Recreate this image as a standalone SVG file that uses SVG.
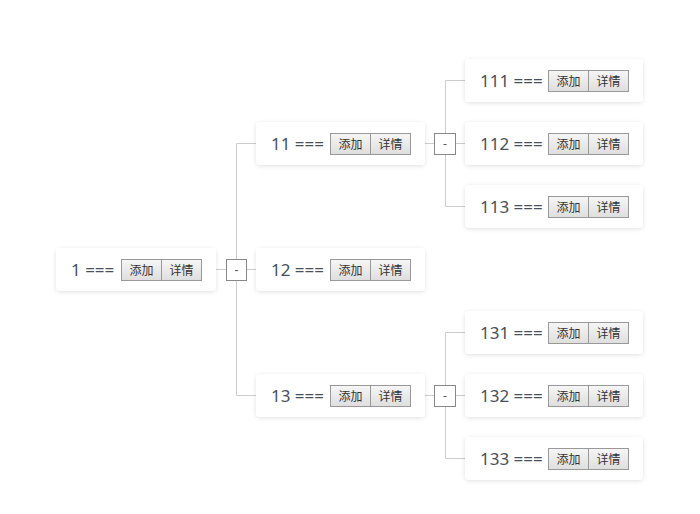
<svg xmlns="http://www.w3.org/2000/svg" width="700" height="514" viewBox="0 0 700 514">
<defs>
<filter id="sh" x="-10%" y="-30%" width="120%" height="160%">
<feDropShadow dx="0" dy="1" stdDeviation="2" flood-color="#000" flood-opacity="0.12"/>
</filter>
<linearGradient id="bg" x1="0" y1="0" x2="0" y2="1">
<stop offset="0" stop-color="#f6f6f6"/>
<stop offset="1" stop-color="#dedede"/>
</linearGradient>
</defs>
<style>
.card{fill:#fff;filter:url(#sh)}
.lbl{font-family:"Noto Sans","DejaVu Sans",sans-serif;font-size:17px;fill:#48505a}
.btn{fill:url(#bg);stroke:#999;stroke-width:1}
.bt{font-family:"Noto Sans CJK SC",sans-serif;font-size:12px;fill:#333;text-anchor:middle}
.tg{fill:#fff;stroke:#888;stroke-width:1}
.tt{font-family:"Liberation Sans",sans-serif;font-size:12px;fill:#555;text-anchor:middle}
.ln{stroke:#cccccc;stroke-width:1;fill:none}
</style>
<rect width="700" height="514" fill="#fff"/>
<g id="connectors">
<path class="ln" d="M216 269.5H226M246 269.5H256M236.5 143.5V395.5M236.5 143.5H256M236.5 395.5H256"/>
<path class="ln" d="M425 143.5H434M455 143.5H465M445.5 80.5V206.5M445.5 80.5H465M445.5 206.5H465"/>
<path class="ln" d="M425 395.5H434M455 395.5H465M445.5 332.5V458.5M445.5 332.5H465M445.5 458.5H465"/>
</g>
<g id="toggles">
<rect class="tg" x="226.5" y="259.5" width="20" height="21"/><text class="tt" x="236.5" y="274">-</text>
<rect class="tg" x="434.5" y="133.5" width="21" height="21"/><text class="tt" x="445" y="148">-</text>
<rect class="tg" x="434.5" y="385.5" width="21" height="21"/><text class="tt" x="445" y="400">-</text>
</g>
<g id="n1">
<rect class="card" x="56" y="248" width="160" height="43" rx="4"/>
<text class="lbl" x="71" y="275.5">1 ===</text>
<rect class="btn" x="121.5" y="259.5" width="40" height="21"/><text class="bt" x="141.5" y="274.5">添加</text>
<rect class="btn" x="161.5" y="259.5" width="40" height="21"/><text class="bt" x="181.5" y="274.5">详情</text>
</g>
<g id="n11">
<rect class="card" x="256" y="122" width="169" height="43" rx="4"/>
<text class="lbl" x="271" y="149.5">11 ===</text>
<rect class="btn" x="330.5" y="133.5" width="40" height="21"/><text class="bt" x="350.5" y="148.5">添加</text>
<rect class="btn" x="370.5" y="133.5" width="40" height="21"/><text class="bt" x="390.5" y="148.5">详情</text>
</g>
<g id="n12">
<rect class="card" x="256" y="248" width="169" height="43" rx="4"/>
<text class="lbl" x="271" y="275.5">12 ===</text>
<rect class="btn" x="330.5" y="259.5" width="40" height="21"/><text class="bt" x="350.5" y="274.5">添加</text>
<rect class="btn" x="370.5" y="259.5" width="40" height="21"/><text class="bt" x="390.5" y="274.5">详情</text>
</g>
<g id="n13">
<rect class="card" x="256" y="374" width="169" height="43" rx="4"/>
<text class="lbl" x="271" y="401.5">13 ===</text>
<rect class="btn" x="330.5" y="385.5" width="40" height="21"/><text class="bt" x="350.5" y="400.5">添加</text>
<rect class="btn" x="370.5" y="385.5" width="40" height="21"/><text class="bt" x="390.5" y="400.5">详情</text>
</g>
<g id="n111">
<rect class="card" x="465" y="59" width="178" height="43" rx="4"/>
<text class="lbl" x="480" y="86.5">111 ===</text>
<rect class="btn" x="548.5" y="70.5" width="40" height="21"/><text class="bt" x="568.5" y="85.5">添加</text>
<rect class="btn" x="588.5" y="70.5" width="40" height="21"/><text class="bt" x="608.5" y="85.5">详情</text>
</g>
<g id="n112">
<rect class="card" x="465" y="122" width="178" height="43" rx="4"/>
<text class="lbl" x="480" y="149.5">112 ===</text>
<rect class="btn" x="548.5" y="133.5" width="40" height="21"/><text class="bt" x="568.5" y="148.5">添加</text>
<rect class="btn" x="588.5" y="133.5" width="40" height="21"/><text class="bt" x="608.5" y="148.5">详情</text>
</g>
<g id="n113">
<rect class="card" x="465" y="185" width="178" height="43" rx="4"/>
<text class="lbl" x="480" y="212.5">113 ===</text>
<rect class="btn" x="548.5" y="196.5" width="40" height="21"/><text class="bt" x="568.5" y="211.5">添加</text>
<rect class="btn" x="588.5" y="196.5" width="40" height="21"/><text class="bt" x="608.5" y="211.5">详情</text>
</g>
<g id="n131">
<rect class="card" x="465" y="311" width="178" height="43" rx="4"/>
<text class="lbl" x="480" y="338.5">131 ===</text>
<rect class="btn" x="548.5" y="322.5" width="40" height="21"/><text class="bt" x="568.5" y="337.5">添加</text>
<rect class="btn" x="588.5" y="322.5" width="40" height="21"/><text class="bt" x="608.5" y="337.5">详情</text>
</g>
<g id="n132">
<rect class="card" x="465" y="374" width="178" height="43" rx="4"/>
<text class="lbl" x="480" y="401.5">132 ===</text>
<rect class="btn" x="548.5" y="385.5" width="40" height="21"/><text class="bt" x="568.5" y="400.5">添加</text>
<rect class="btn" x="588.5" y="385.5" width="40" height="21"/><text class="bt" x="608.5" y="400.5">详情</text>
</g>
<g id="n133">
<rect class="card" x="465" y="437" width="178" height="43" rx="4"/>
<text class="lbl" x="480" y="464.5">133 ===</text>
<rect class="btn" x="548.5" y="448.5" width="40" height="21"/><text class="bt" x="568.5" y="463.5">添加</text>
<rect class="btn" x="588.5" y="448.5" width="40" height="21"/><text class="bt" x="608.5" y="463.5">详情</text>
</g>
</svg>
